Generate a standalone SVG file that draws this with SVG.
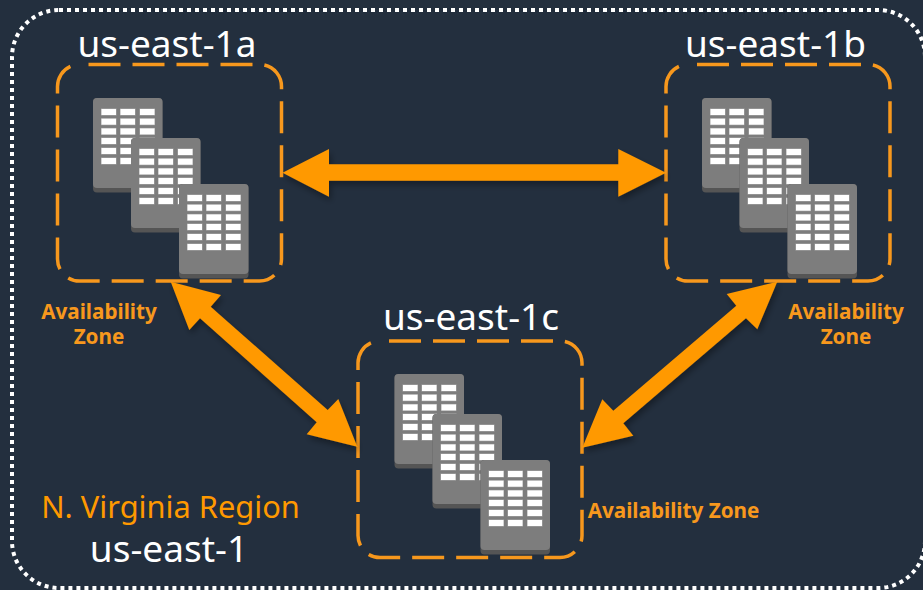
<svg xmlns="http://www.w3.org/2000/svg" width="923" height="590" viewBox="0 0 923 590">
<style>
.az{fill:none;stroke:#f7981d;stroke-width:3.5;stroke-dasharray:32 12;stroke-dashoffset:35}
.t{font-family:"Noto Sans","Open Sans",sans-serif;text-anchor:middle}
.name{font-size:37px;fill:#fff}
.lab{font-size:20.700px;font-weight:700;fill:#f7981d}
.arrow{fill:#f90;filter:url(#sh)}
</style>
<defs>
<filter id="sh" x="-20%" y="-20%" width="140%" height="140%"><feDropShadow dx="2" dy="4" stdDeviation="3" flood-color="#000" flood-opacity=".35"/></filter>
<g id="win"><rect width="14.5" height="6"/><rect x="19" width="14.5" height="6"/><rect x="38.5" width="14.5" height="6"/></g>
<g id="bld">
<rect width="69.5" height="94.5" rx="4" fill="#555"/>
<rect width="69.5" height="90" rx="4" fill="#7d7d7d"/>
<g fill="#fff" stroke="#fff" stroke-opacity=".35" stroke-width="1">
<use href="#win" x="8.5" y="11"/><use href="#win" x="8.5" y="20.7"/><use href="#win" x="8.5" y="30.4"/><use href="#win" x="8.5" y="40"/><use href="#win" x="8.5" y="50"/><use href="#win" x="8.5" y="60"/>
</g>
</g>
</defs>
<rect width="923" height="590" fill="#232f3e"/>
<rect id="region" x="12" y="10" width="913" height="578" rx="47" fill="none" stroke="#fff" stroke-width="4" stroke-dasharray="4 4"/>
<g id="az-a">
<rect class="az" x="57.5" y="64.5" width="224" height="216.5" rx="22"/>
<text class="t name" x="167" y="57">us-east-1a</text>
<use href="#bld" x="93" y="98"/><use href="#bld" x="131" y="138"/><use href="#bld" x="179" y="184"/>
<text class="t lab" x="99" y="319">Availability</text><text class="t lab" x="99" y="344">Zone</text>
</g>
<g id="az-b">
<rect class="az" x="666" y="64.5" width="224" height="216.5" rx="22"/>
<text class="t name" x="775.500" y="57">us-east-1b</text>
<use href="#bld" x="702" y="98"/><use href="#bld" x="739.5" y="138"/><use href="#bld" x="787.5" y="184"/>
<text class="t lab" x="846" y="319">Availability</text><text class="t lab" x="846" y="344">Zone</text>
</g>
<g id="az-c">
<rect class="az" x="358" y="341" width="224" height="216.5" rx="22"/>
<text class="t name" x="471" y="330">us-east-1c</text>
<use href="#bld" x="394.5" y="374"/><use href="#bld" x="432.5" y="414"/><use href="#bld" x="480.5" y="460"/>
<text class="t lab" x="673.500" y="518">Availability Zone</text>
</g>
<g id="region-label">
<text class="t" x="170.500" y="518" font-size="30.800" fill="#f90">N. Virginia Region</text>
<text class="t" x="169" y="562" font-size="37" fill="#fff">us-east-1</text>
</g>
<g id="connectors">
<polygon class="arrow" points="282.500,172.700 329,149 329,164.300 618.300,164.300 618.300,149 666,172.700 618.300,196.700 618.300,180.700 329,180.700 329,196.700"/>
<polygon class="arrow" points="170.700,281.700 221,295 210.700,306.700 327.700,410 338.300,399 357.300,446.700 306.700,434.300 316.700,422.300 200,318.300 189.300,330"/>
<polygon class="arrow" points="777.300,281.700 726.700,294 736.300,305.700 613.300,410.700 602.300,399.300 582.300,447.700 633.300,435.700 623.300,423.300 746,318.300 757.300,329.300"/>
</g>
</svg>
